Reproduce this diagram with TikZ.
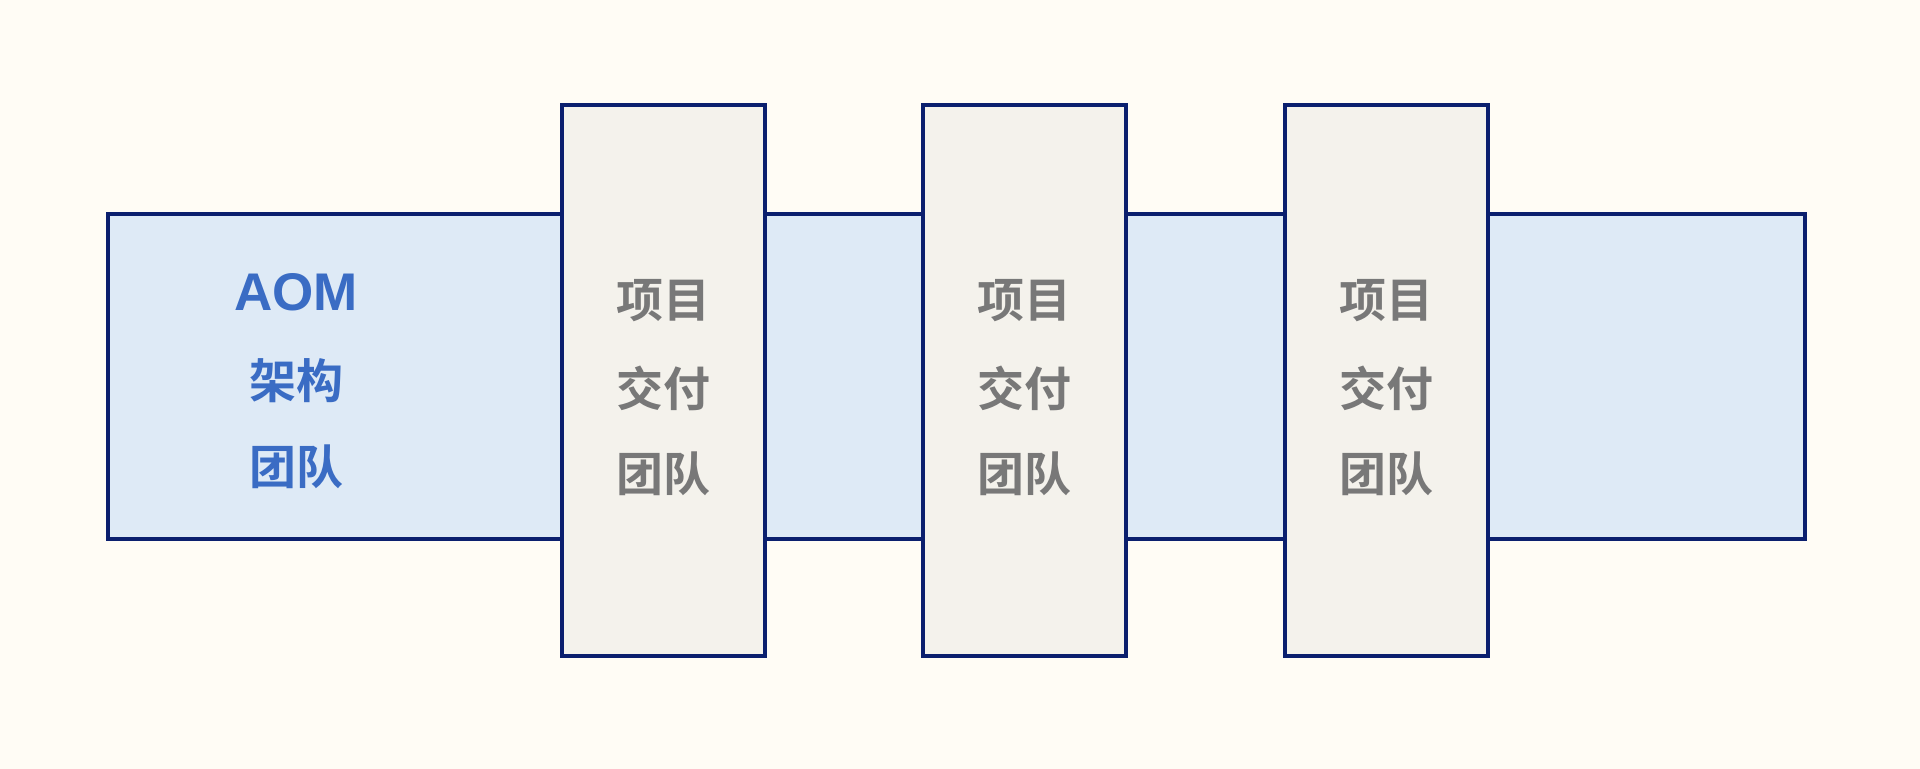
\documentclass[tikz,border=0pt]{standalone}
\usepackage{fontspec}
\newfontfamily\cjk{Noto Sans CJK SC Bold}
\newfontfamily\latinbold{Liberation Sans Bold}
\definecolor{bgc}{HTML}{FFFCF5}
\definecolor{bandfill}{HTML}{DEEAF6}
\definecolor{boxfill}{HTML}{F4F2EC}
\definecolor{edgec}{HTML}{0B1F6E}
\definecolor{bluetext}{HTML}{3A6CC4}
\definecolor{graytext}{HTML}{787878}
\tikzset{
  band/.style={draw=edgec, fill=bandfill, line width=1.6pt, inner sep=0pt},
  teambox/.style={draw=edgec, fill=boxfill, line width=1.6pt, inner sep=0pt,
    minimum width=101.5pt, minimum height=275.5pt},
  bluelabel/.style={text=bluetext, font=\cjk\fontsize{23.5}{28}\selectfont, inner sep=0pt},
  graylabel/.style={text=graytext, font=\cjk\fontsize{23.5}{28}\selectfont, inner sep=0pt}
}
\begin{document}
\begin{tikzpicture}[x=0.5pt,y=-0.5pt]
\fill[bgc] (0,0) rectangle (1920,769);
\useasboundingbox (0,0) rectangle (1920,769);
\node[band, minimum width=848.5pt, minimum height=162.5pt] (band) at (956.5,376.5) {};
\node[teambox] (box1) at (663.5,380.5) {};
\node[teambox] (box2) at (1024.5,380.5) {};
\node[teambox] (box3) at (1386.5,380.5) {};
\node[bluelabel, font=\latinbold\fontsize{26.5}{30}\selectfont] (aom) at (296,292) {AOM};
\node[bluelabel] (jg) at (296,381) {架构};
\node[bluelabel] (td) at (296,467) {团队};
\foreach \i/\x in {1/663.5,2/1024.5,3/1386.5}{
  \node[graylabel] (xm\i) at (\x,301) {项目};
  \node[graylabel] (jf\i) at (\x,388) {交付};
  \node[graylabel] (tt\i) at (\x,474) {团队};
}
\end{tikzpicture}
\end{document}
